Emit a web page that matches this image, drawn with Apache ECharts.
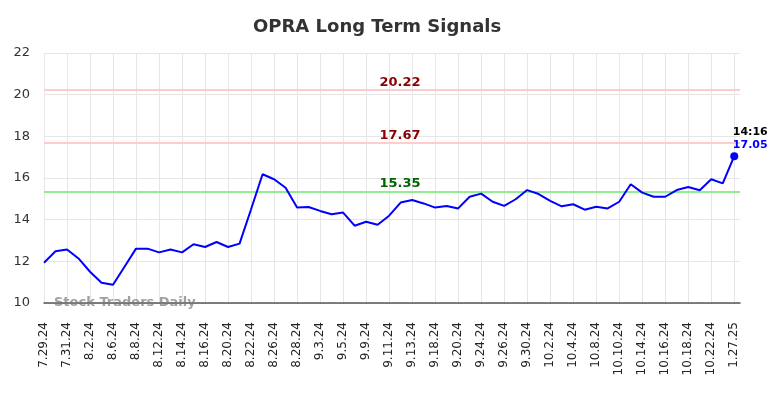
<!DOCTYPE html>
<html>
<head>
<meta charset="utf-8">
<script src="https://cdn.jsdelivr.net/npm/echarts@6/dist/echarts.min.js"></script>
<style>
  html, body { margin: 0; padding: 0; background: #fff; }
  #chart { width: 784px; height: 398px; }
</style>
</head>
<body>
<div id="chart"></div>
<script>
// trading dates (one per point), labels shown every second point
const dates = [
  '7.29.24', '7.30.24', '7.31.24', '8.1.24', '8.2.24', '8.5.24', '8.6.24', '8.7.24', '8.8.24', '8.9.24',
  '8.12.24', '8.13.24', '8.14.24', '8.15.24', '8.16.24', '8.19.24', '8.20.24', '8.21.24', '8.22.24', '8.23.24',
  '8.26.24', '8.27.24', '8.28.24', '8.29.24', '9.3.24', '9.4.24', '9.5.24', '9.6.24', '9.9.24', '9.10.24',
  '9.11.24', '9.12.24', '9.13.24', '9.17.24', '9.18.24', '9.19.24', '9.20.24', '9.23.24', '9.24.24', '9.25.24',
  '9.26.24', '9.27.24', '9.30.24', '10.1.24', '10.2.24', '10.3.24', '10.4.24', '10.7.24', '10.8.24', '10.9.24',
  '10.10.24', '10.11.24', '10.14.24', '10.15.24', '10.16.24', '10.17.24', '10.18.24', '10.21.24', '10.22.24', '10.23.24',
  '1.27.25'
];

const prices = [
  11.93, 12.48, 12.57, 12.14, 11.50, 10.97, 10.88, 11.74, 12.61, 12.61,
  12.43, 12.57, 12.43, 12.82, 12.69, 12.93, 12.69, 12.85, 14.50, 16.18,
  15.94, 15.53, 14.58, 14.61, 14.42, 14.26, 14.34, 13.71, 13.90, 13.76,
  14.19, 14.82, 14.94, 14.78, 14.58, 14.66, 14.54, 15.10, 15.25, 14.86,
  14.66, 14.98, 15.42, 15.23, 14.90, 14.64, 14.74, 14.48, 14.62, 14.54,
  14.86, 15.70, 15.30, 15.10, 15.10, 15.42, 15.57, 15.41, 15.94, 15.74,
  17.05
];

const resistanceLevels = [20.22, 17.67];
const supportLevels = [15.35];
const lastTime = '14:16';

const yTicks = { min: 10, max: 22, step: 2 };

const chart = echarts.init(document.getElementById('chart'));

const lastIdx = prices.length - 1;
const seriesData = prices.map((v, i) => {
  if (i !== lastIdx) return { value: [i, v], symbol: 'none' };
  return {
    value: [i, v],
    symbol: 'circle',
    symbolSize: 8,
    label: {
      show: true,
      position: 'top',
      distance: 4,
      offset: [16, 4],
      formatter: '{t|' + lastTime + '}\n{v|' + v.toFixed(2) + '}',
      rich: {
        t: { color: '#000', fontWeight: 'bold', fontSize: 11, lineHeight: 13, fontFamily: 'DejaVu Sans' },
        v: { color: '#0000ff', fontWeight: 'bold', fontSize: 11, lineHeight: 13, fontFamily: 'DejaVu Sans' }
      }
    }
  };
});

const levelLines = [
  ...resistanceLevels.map(v => ({
    yAxis: v,
    lineStyle: { color: '#ffcccc', width: 2, type: 'solid' },
    label: { color: '#8b0000' }
  })),
  ...supportLevels.map(v => ({
    yAxis: v,
    lineStyle: { color: '#90ee90', width: 2, type: 'solid' },
    label: { color: '#006400' }
  }))
];

const option = {
  animation: false,
  title: {
    text: 'OPRA Long Term Signals',
    left: 248,
    top: 13,
    textStyle: { fontSize: 18, fontWeight: 'bold', color: '#333', fontFamily: 'DejaVu Sans' }
  },
  grid: { left: 44, right: 44, top: 53, bottom: 95 },
  xAxis: {
    type: 'value',
    min: 0,
    max: 60.5,
    interval: 2,
    axisLine: { show: true, lineStyle: { color: '#555', width: 1.5 } },
    axisTick: { show: false },
    axisLabel: {
      rotate: 90,
      margin: 19,
      fontSize: 12,
      color: '#222',
      fontFamily: 'DejaVu Sans',
      showMaxLabel: false,
      formatter: v => (Number.isInteger(v) && dates[v]) ? dates[v] : ''
    },
    splitLine: { show: true, showMaxLine: false, lineStyle: { color: '#e6e6e6', width: 1 } }
  },
  yAxis: {
    type: 'value',
    min: yTicks.min,
    max: yTicks.max,
    interval: yTicks.step,
    axisLine: { show: false },
    axisTick: { show: false },
    axisLabel: { fontSize: 13, color: '#333', margin: 14, fontFamily: 'DejaVu Sans' },
    splitLine: { show: true, lineStyle: { color: '#e6e6e6', width: 1 } }
  },
  graphic: [{
    type: 'text',
    left: 54,
    top: 296,
    z: 10,
    style: {
      text: 'Stock Traders Daily',
      fill: 'rgba(120,120,120,0.7)',
      font: 'bold 13px "DejaVu Sans"'
    }
  }],
  series: [{
    type: 'line',
    data: seriesData,
    showSymbol: true,
    lineStyle: { color: '#0000ff', width: 2 },
    itemStyle: { color: '#0000ff' },
    z: 3,
    markLine: {
      silent: true,
      symbol: 'none',
      z: 2,
      label: {
        show: true,
        position: 'middle',
        distance: 1,
        offset: [8, 0],
        fontSize: 13,
        fontWeight: 'bold',
        fontFamily: 'DejaVu Sans',
        formatter: p => p.value.toFixed(2)
      },
      data: levelLines
    }
  }]
};

chart.setOption(option);
</script>
</body>
</html>
